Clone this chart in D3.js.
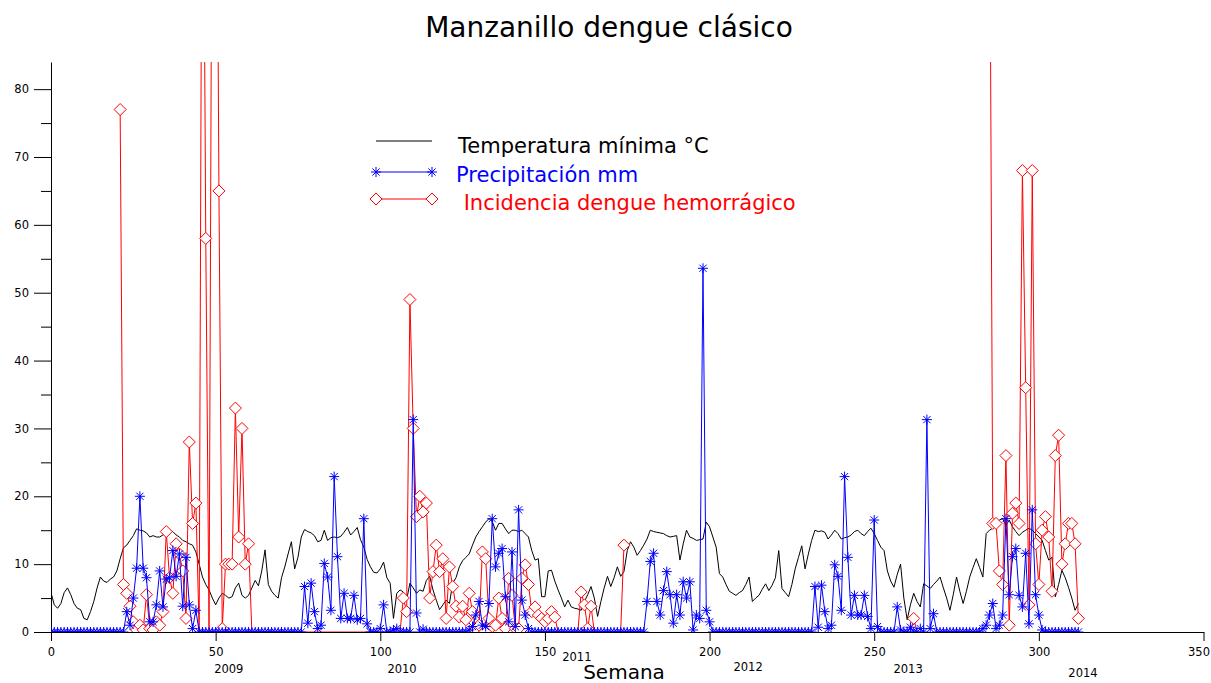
<!DOCTYPE html>
<html>
<head>
<meta charset="utf-8">
<script src="https://cdn.jsdelivr.net/npm/d3@7"></script>
<style>
  html, body { margin: 0; padding: 0; background: #fff; }
  svg { display: block; font-family: "DejaVu Sans", Verdana, sans-serif; }
</style>
</head>
<body>
<svg id="chart" width="1211" height="683"></svg>
<script>
// Weekly series, index = week number (0..312)

// Minimum temperature, °C
const temperatura = [
  5.8, 4.0, 3.5, 4.2, 5.8, 6.5, 5.5, 4.2, 3.5, 3.3,
  2.0, 1.8, 3.0, 4.5, 6.5, 8.1, 7.5, 7.3, 7.8, 8.1,
  9.0, 10.8, 12.4, 12.8, 13.5, 14.2, 15.2, 15.0, 14.9, 14.6,
  14.0, 14.2, 14.0, 14.0, 14.3, 14.6, 15.0, 14.8, 14.3, 14.0,
  13.5, 13.3, 13.0, 12.8, 11.8, 10.0, 8.1, 7.0, 6.2, 5.0,
  4.0, 5.0, 5.7, 5.4, 5.0, 5.2, 6.5, 7.2, 5.4, 5.0,
  5.4, 6.5, 7.6, 6.8, 9.0, 12.1, 7.0, 6.0, 5.4, 5.0,
  8.0, 9.6, 11.5, 13.3, 9.3, 11.0, 14.0, 15.1, 14.8, 14.6,
  14.2, 13.3, 13.5, 15.0, 13.5, 13.9, 14.0, 13.9, 14.1, 14.7,
  15.4, 14.3, 14.8, 15.4, 13.6, 12.5, 10.7, 9.6, 8.8, 8.7,
  9.3, 10.3, 8.0, 7.2, 2.0, 5.7, 6.2, 5.9, 4.7, 7.2,
  6.5, 5.7, 6.2, 6.0, 7.6, 8.2, 6.2, 4.7, 3.3, 4.0,
  4.7, 4.2, 7.2, 8.0, 9.6, 10.5, 11.0, 11.5, 12.8, 14.0,
  14.8, 15.5, 16.2, 16.7, 16.3, 15.0, 16.0, 16.0, 15.2, 14.5,
  15.0, 15.0, 14.8, 15.0, 14.5, 14.0, 12.0, 10.6, 10.8, 5.2,
  5.2, 9.0, 9.1, 7.5, 6.2, 5.0, 3.7, 4.7, 3.7, 3.5,
  3.4, 3.2, 4.5, 5.5, 6.7, 5.0, 2.3, 4.5, 6.5, 8.2,
  6.7, 8.0, 9.6, 8.2, 8.9, 12.0, 13.3, 12.5, 11.3, 12.0,
  12.8, 13.7, 15.0, 14.8, 14.7, 14.6, 14.5, 14.2, 14.0, 14.1,
  14.2, 10.6, 13.0, 15.0, 14.0, 13.8, 13.5, 13.6, 13.7, 16.2,
  15.5, 14.0, 12.5, 8.6, 8.1, 7.0, 6.0, 5.7, 5.4, 5.8,
  6.1, 7.0, 8.1, 4.5, 5.0, 5.4, 6.3, 7.1, 6.1, 6.9,
  8.0, 12.0, 6.4, 5.8, 5.2, 7.0, 9.3, 11.0, 12.7, 9.3,
  11.5, 13.5, 15.0, 14.8, 14.9, 14.7, 13.7, 14.3, 15.0, 14.5,
  13.7, 13.9, 14.0, 14.3, 14.8, 15.0, 14.5, 14.2, 14.8, 15.3,
  14.5, 13.5, 12.5, 12.0, 9.0, 7.5, 6.6, 8.5, 10.0, 5.0,
  1.8, 4.0, 5.7, 4.5, 3.7, 7.1, 6.8, 6.4, 7.0, 7.5,
  8.1, 6.5, 5.0, 3.2, 5.5, 8.1, 6.0, 4.2, 6.0, 8.1,
  9.5, 10.8, 9.5, 8.1, 14.5, 15.0, 15.3, 16.0, 16.5, 16.7,
  15.7, 16.5, 15.5, 14.8, 14.2, 14.7, 15.0, 15.3, 15.0, 14.5,
  14.0, 13.5, 12.0, 10.6, 11.0, 5.2, 7.0, 9.1, 8.0, 6.6,
  5.0, 3.2, 4.2
];

// Rainfall, mm
const precipitacion = [
  0, 0, 0, 0, 0, 0, 0, 0, 0, 0,
  0, 0, 0, 0, 0, 0, 0, 0, 0, 0,
  0, 0, 0, 3.0, 1.0, 5.0, 9.4, 20.0, 9.4, 8.0,
  1.5, 1.5, 4.0, 9.0, 3.7, 7.8, 8.0, 12.0, 8.2, 11.5,
  3.8, 11.0, 4.0, 0.5, 3.2, 0, 0, 0, 0, 0,
  0, 0, 0, 0, 0, 0, 0, 0, 0, 0,
  0, 0, 0, 0, 0, 0, 0, 0, 0, 0,
  0, 0, 0, 0, 0, 0, 0, 6.7, 1.3, 7.2,
  3.0, 0.5, 1.0, 10.1, 8.1, 3.2, 22.9, 11.1, 2.0, 5.7,
  2.0, 2.0, 5.4, 1.8, 2.0, 16.7, 1.2, 0, 0, 0,
  0.5, 4.0, 0, 0, 0.3, 0.5, 0, 0, 0, 0,
  31.3, 2.8, 0, 0.4, 0, 0, 0, 0, 0, 0,
  0, 0, 0, 0, 0, 0, 0, 0.3, 0.8, 2.5,
  4.5, 1.0, 0.8, 4.2, 16.7, 9.6, 11.6, 12.3, 5.2, 1.5,
  11.8, 0.8, 18.0, 4.7, 2.5, 0.5, 0, 0, 0, 0,
  0, 0, 0, 0, 0, 0, 0, 0, 0, 0,
  0, 0, 0, 0, 0, 0, 0, 0, 0, 0,
  0, 0, 0, 0, 0, 0, 0, 0, 0, 0,
  0, 4.5, 10.4, 11.6, 4.5, 2.5, 6.1, 8.9, 5.5, 1.3,
  5.5, 2.5, 7.4, 5.0, 7.4, 0.3, 2.5, 2.0, 53.6, 3.2,
  1.5, 0, 0, 0, 0, 0, 0, 0, 0, 0,
  0, 0, 0, 0, 0, 0, 0, 0, 0, 0,
  0, 0, 0, 0, 0, 0, 0, 0, 0, 0,
  0, 0, 6.7, 0.7, 6.9, 3.0, 0.5, 1.0, 9.9, 8.2,
  3.2, 22.9, 11.0, 2.5, 5.4, 2.5, 2.5, 5.4, 2.3, 0.5,
  16.5, 0.8, 0, 0, 0, 0, 0, 3.7, 0.3, 0,
  0, 0.7, 0, 0, 0.5, 0, 31.3, 0.5, 2.7, 0,
  0, 0, 0, 0, 0, 0, 0, 0, 0, 0,
  0, 0, 0, 0.5, 1.0, 2.5, 4.2, 0.5, 1.0, 2.5,
  16.7, 5.5, 11.1, 12.3, 5.4, 3.7, 11.6, 1.2, 18.0, 5.5,
  2.5, 0.3, 0, 0, 0, 0, 0, 0, 0, 0,
  0, 0, 0
];

// Weekly incidence of dengue (null = no record)
const incidencia = [
  null, null, null, null, null, null, null, null, null, null,
  null, null, null, null, null, null, null, null, null, null,
  null, 77, 7, 5.7, 3.8, 1.5, 0.3, 1, 0.3, 5.5,
  0.5, 0.3, 1.5, 1, 3, 14.8, 8, 5.7, 13, 11.5,
  9, 2, 28, 16, 19, 0, 140, 58, 0, 130,
  150, 65, 0.5, 10, 10, 10, 33, 14, 30, 10,
  13, 0, 0, 0, 0, 0, 0, 0, 0, 0,
  0, 0, 0, 0, 0, 0, 0, 0, 0, 0,
  0, 0, 0, 0, 0, 0, 0, 0, 0, 0,
  0, 0, 0, 0, 0, 0, 0, 0, 0, 0,
  0, 0, 0, 0, 0, 0, 0, 5, 3, 49,
  30, 17, 20, 17.7, 19, 5, 8.9, 12.8, 8.9, 10.8,
  2, 9.6, 6.7, 3.8, 2.2, 3.8, 1.8, 5.7, 3, 0.5,
  1, 11.8, 10.8, 2, 0.8, 1, 5, 2, 0.5, 7.9,
  5.4, 0.5, 0.5, 7.9, 9.9, 7, 3, 3.7, 2.5, 2,
  1.5, 2, 3, 2.2, 0, 0, 0, 0, 0, 0,
  0, 5.9, 4.0, 0.5, 3.8, 0, 0, 0, 0, 0,
  0, 0, 0, 0, 12.8, null, null, null, null, null,
  null, null, null, null, null, null, null, null, null, null,
  null, null, null, null, null, null, null, null, null, null,
  null, null, null, null, null, null, null, null, null, null,
  null, null, null, null, null, null, null, null, null, null,
  null, null, null, null, null, null, null, null, null, null,
  null, null, null, null, null, null, null, null, null, null,
  null, null, null, null, null, null, null, null, null, null,
  null, null, null, null, null, null, null, null, null, null,
  null, 0, 2, 0, null, null, null, null, null, null,
  null, null, null, null, null, null, null, null, null, null,
  null, null, null, null, null, 120, 16, 16, 9, 7,
  26, 1, 17.5, 19, 16, 68, 36, 4, 68, 13,
  7, 15, 17, 14, 6, 26, 29, 10, 13, 16,
  16, 13, 2
];

// Axis ticks and labels
const xTicks = [0, 50, 100, 150, 200, 250, 300, 350];
const yTicks = [0, 10, 20, 30, 40, 50, 60, 70, 80];
const yMinorTicks = [5, 15, 25, 35, 45, 55, 65, 75];
const years = ["2009", "2010", "2011", "2012", "2013", "2014"];
const yearWeeks = [54, 106.6, 159.7, 211.7, 260.3, 313.4];
const yearRows = [673, 673, 661, 671, 673, 677];

const titleText = "Manzanillo dengue clásico";
const xLabel = "Semana";
const legendLabels = ["Temperatura mínima °C", "Precipitación mm", " Incidencia dengue hemorrágico"];

// ---------------------------------------------------------------
const svg = d3.select("#chart");
const plot = { left: 51, right: 1203.5, top: 62, bottom: 632 };

const x = d3.scaleLinear().domain([0, 350]).range([plot.left, plot.right]);
const y = d3.scaleLinear().domain([0, 84]).range([plot.bottom, plot.top]);

svg.append("rect").attr("width", 1211).attr("height", 683).attr("fill", "#fff");

svg.append("defs").append("clipPath").attr("id", "plotClip")
  .append("rect")
  .attr("x", plot.left).attr("y", plot.top)
  .attr("width", plot.right - plot.left)
  .attr("height", plot.bottom - plot.top);

// Title
svg.append("text")
  .attr("x", 609).attr("y", 37)
  .attr("text-anchor", "middle")
  .attr("font-size", 28)
  .attr("fill", "#000")
  .text(titleText);

// Axes
const xAxis = d3.axisBottom(x).tickValues(xTicks).tickSize(9).tickSizeOuter(0).tickPadding(7);
const yAxis = d3.axisLeft(y).tickValues(yTicks).tickSize(17).tickSizeOuter(0).tickPadding(5);
const yMinor = d3.axisLeft(y).tickValues(yMinorTicks).tickSize(10).tickSizeOuter(0).tickFormat("");

function styleAxis(g) {
  g.selectAll("path, line").attr("stroke", "#000").attr("stroke-width", 1);
  g.selectAll("text").attr("fill", "#000").attr("font-size", 11.5)
    .attr("font-family", "DejaVu Sans, sans-serif");
}

const gx = svg.append("g").attr("transform", `translate(0,${plot.bottom})`).call(xAxis).call(styleAxis);
// keep the last week label inside the page
gx.selectAll(".tick text").filter(d => d === 350).attr("text-anchor", "end").attr("dx", 6);

svg.append("g").attr("transform", `translate(${plot.left},0)`).call(yAxis).call(styleAxis);
svg.append("g").attr("transform", `translate(${plot.left},0)`).call(yMinor).call(styleAxis)
  .select(".domain").remove();

// Year labels under the week axis
svg.append("g").selectAll("text").data(years).join("text")
  .attr("x", (d, i) => x(yearWeeks[i]))
  .attr("y", (d, i) => yearRows[i])
  .attr("text-anchor", "middle")
  .attr("font-size", 11.5)
  .attr("fill", "#000")
  .text(d => d);

svg.append("text")
  .attr("x", 624).attr("y", 679)
  .attr("text-anchor", "middle")
  .attr("font-size", 20)
  .attr("fill", "#000")
  .text(xLabel);

// Marker shapes
const starR = 5;
const starA = starR * 0.72;
const starPath = `M${-starR},0L${starR},0M0,${-starR}L0,${starR}` +
  `M${-starA},${-starA}L${starA},${starA}M${-starA},${starA}L${starA},${-starA}`;
const diamR = 6;
const diamondPath = `M0,${-diamR}L${diamR},0L0,${diamR}L${-diamR},0Z`;

const line = d3.line()
  .defined(d => d != null)
  .x((d, i) => x(i))
  .y(d => y(d));

const series = svg.append("g").attr("clip-path", "url(#plotClip)");

// Temperature
series.append("path")
  .datum(temperatura)
  .attr("fill", "none")
  .attr("stroke", "#000")
  .attr("stroke-width", 1)
  .attr("d", (d) => line(d));

// Incidence
series.append("path")
  .datum(incidencia)
  .attr("fill", "none")
  .attr("stroke", "#ff0000")
  .attr("stroke-width", 1)
  .attr("d", (d) => line(d));

const incPts = incidencia.map((v, i) => ({ v, i })).filter(p => p.v != null && p.v > 0);
series.append("g").selectAll("path").data(incPts).join("path")
  .attr("transform", p => `translate(${x(p.i)},${y(p.v)})`)
  .attr("d", diamondPath)
  .attr("fill", "#fff")
  .attr("stroke", "#ff0000")
  .attr("stroke-width", 1);

// Rainfall
series.append("path")
  .datum(precipitacion)
  .attr("fill", "none")
  .attr("stroke", "#0000ff")
  .attr("stroke-width", 1)
  .attr("d", (d) => line(d));

const prePts = precipitacion.map((v, i) => ({ v, i }));
series.append("g").selectAll("path").data(prePts).join("path")
  .attr("transform", p => `translate(${x(p.i)},${y(p.v)})`)
  .attr("d", starPath)
  .attr("fill", "none")
  .attr("stroke", "#0000ff")
  .attr("stroke-width", 1);

// Legend
const legend = svg.append("g");
const legRows = [
  { y: 141, color: "#000", marker: null, textX: 458, textY: 153 },
  { y: 172, color: "#0000ff", marker: starPath, textX: 456, textY: 182 },
  { y: 199, color: "#ff0000", marker: diamondPath, textX: 457, textY: 210 }
];
legRows.forEach((r, k) => {
  legend.append("line")
    .attr("x1", 376).attr("x2", 432)
    .attr("y1", r.y).attr("y2", r.y)
    .attr("stroke", r.color).attr("stroke-width", 1);
  if (r.marker) {
    [376, 432].forEach(mx => {
      legend.append("path")
        .attr("transform", `translate(${mx},${r.y})`)
        .attr("d", r.marker)
        .attr("fill", r.marker === diamondPath ? "#fff" : "none")
        .attr("stroke", r.color).attr("stroke-width", 1);
    });
  }
  legend.append("text")
    .attr("x", r.textX).attr("y", r.textY)
    .attr("font-size", 21)
    .attr("fill", r.color)
    .attr("xml:space", "preserve")
    .style("white-space", "pre")
    .text(legendLabels[k]);
});
</script>
</body>
</html>
